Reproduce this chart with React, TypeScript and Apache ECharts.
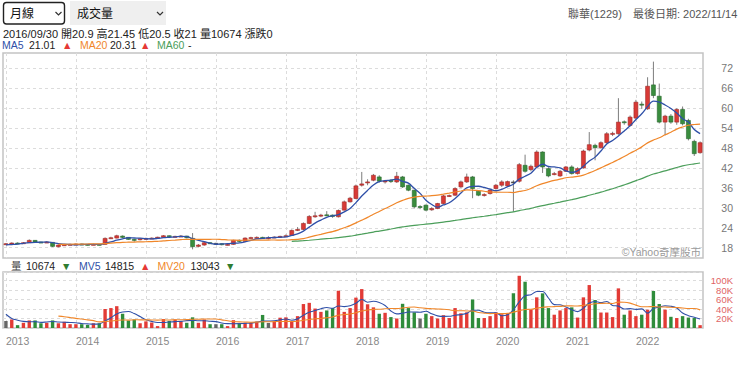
import React, { useEffect, useRef } from 'react';
import * as echarts from 'echarts';

// ---------- data ----------
const START_YEAR = 2012;
const START_MONTH = 12;
const HOVER_INDEX = 45;

const priorCloses = [18.2, 18.5, 18.8, 18.4, 18.3, 18.6, 18.9, 18.7, 18.3, 19.2];
const priorVolumes = [38000, 42000, 45000, 36000, 40000, 40000, 63000, 23500, 23500, 20300];

const opens = [
  19.1, 19.2, 19.4, 19.3, 19.5, 20.2, 19.7, 19.6, 19.6, 18.3, 18.8, 18.9,
  19.0, 19.1, 19.0, 18.9, 19.0, 19.0, 20.8, 20.9, 21.5, 21.1, 20.5, 20.4,
  20.6, 20.8, 20.9, 21.1, 21.6, 21.3, 21.4, 21.5, 20.8, 18.4, 18.8, 19.5,
  19.3, 19.2, 18.9, 19.0, 20.2, 19.9, 20.9, 21.0, 21.1, 20.9, 21.0, 21.2,
  21.4, 21.7, 23.2, 23.5, 25.3, 27.4, 27.6, 27.9, 27.8, 27.3, 29.3, 31.8,
  32.8, 36.8, 37.5, 38.3, 39.3, 37.9, 38.3, 37.8, 39.3, 36.8, 35.3, 30.4,
  30.8, 29.4, 29.8, 31.3, 33.6, 33.8, 36.3, 37.8, 39.3, 35.0, 33.8, 34.3,
  35.8, 36.8, 36.6, 37.8, 38.0, 42.8, 41.5, 42.3, 46.8, 41.8, 40.1, 39.6,
  41.0, 42.3, 40.3, 42.0, 47.4, 48.8, 48.1, 49.6, 52.2, 52.3, 55.9, 54.8,
  57.0, 61.2, 59.8, 67.0, 63.6, 55.8, 57.6, 55.8, 59.6, 56.3, 50.0, 46.6
];
const closes = [
  19.2, 19.4, 19.3, 19.5, 20.2, 19.7, 19.6, 19.7, 18.4, 18.8, 18.9, 19.0,
  19.1, 19.0, 18.9, 19.0, 18.9, 20.8, 21.0, 21.6, 21.1, 20.5, 20.4, 20.7,
  20.8, 20.9, 21.15, 21.6, 21.3, 21.4, 21.5, 21.0, 18.3, 18.8, 19.5, 19.3,
  19.3, 18.9, 19.0, 20.2, 19.9, 20.9, 21.05, 21.1, 21.0, 21.0, 21.2, 21.4,
  21.6, 23.2, 23.5, 25.3, 27.4, 27.6, 27.8, 27.7, 27.4, 29.2, 31.8, 32.9,
  36.6, 37.2, 37.8, 39.8, 38.0, 38.1, 37.9, 39.5, 36.3, 35.3, 30.3, 30.3,
  29.3, 29.8, 31.3, 33.6, 33.7, 35.8, 37.8, 39.3, 35.8, 33.8, 34.0, 35.3,
  36.8, 37.8, 37.9, 37.8, 43.0, 41.0, 42.5, 46.8, 42.3, 39.6, 40.3, 41.0,
  42.3, 40.3, 41.8, 47.1, 49.0, 48.1, 49.6, 52.3, 52.4, 55.8, 55.6, 57.3,
  61.8, 61.0, 66.6, 63.8, 55.8, 57.6, 55.8, 59.6, 55.3, 50.8, 46.3, 49.6
];
const lows = [
  18.9, 19.0, 19.1, 19.2, 19.4, 19.6, 19.4, 19.5, 18.2, 18.1, 18.7, 18.8,
  18.9, 18.8, 18.7, 18.8, 18.7, 18.9, 20.6, 20.8, 20.9, 20.4, 19.8, 20.2,
  20.4, 20.6, 20.8, 21.0, 21.1, 21.1, 21.2, 20.8, 17.5, 18.1, 18.6, 19.1,
  19.0, 18.7, 18.7, 18.9, 19.7, 19.8, 20.7, 20.8, 20.7, 20.5, 20.9, 21.0,
  21.2, 21.6, 23.0, 23.3, 25.1, 27.0, 27.2, 27.5, 27.0, 27.1, 29.2, 31.6,
  32.6, 36.4, 36.8, 38.0, 37.6, 37.3, 37.5, 37.5, 36.0, 35.0, 29.8, 29.6,
  29.0, 29.1, 29.6, 31.0, 33.3, 33.5, 36.0, 37.5, 32.9, 33.5, 33.4, 34.0,
  35.5, 36.3, 36.3, 28.8, 37.6, 40.6, 41.0, 42.0, 40.5, 39.2, 39.8, 39.3,
  40.8, 40.0, 40.0, 41.8, 47.0, 44.3, 47.8, 49.3, 51.6, 52.0, 55.0, 54.5,
  56.8, 59.8, 59.5, 63.0, 55.4, 51.8, 55.3, 55.0, 54.8, 50.3, 45.6, 46.3
];
const highs = [
  19.4, 19.6, 19.6, 19.7, 20.5, 20.3, 19.8, 19.9, 19.7, 18.9, 19.1, 19.2,
  19.3, 19.2, 19.1, 19.2, 19.1, 21.1, 21.3, 21.9, 21.7, 21.2, 20.6, 20.8,
  21.0, 21.1, 21.3, 21.8, 21.7, 21.6, 21.8, 21.6, 22.4, 19.1, 19.7, 19.6,
  19.5, 19.3, 19.2, 20.4, 20.5, 21.1, 21.3, 21.4, 21.3, 21.45, 21.4, 21.6,
  22.0, 23.5, 24.2, 25.6, 27.8, 28.8, 28.2, 29.0, 28.0, 29.5, 32.2, 33.3,
  37.0, 40.8, 38.6, 40.2, 39.8, 38.4, 38.6, 40.8, 39.6, 37.0, 35.5, 30.8,
  31.0, 30.2, 31.5, 33.9, 34.0, 36.2, 38.2, 40.3, 39.6, 35.3, 34.4, 35.6,
  37.2, 38.3, 38.2, 38.3, 43.5, 46.0, 43.0, 47.3, 47.0, 42.2, 40.8, 41.4,
  42.6, 42.8, 42.2, 47.5, 52.8, 49.3, 50.0, 52.8, 52.9, 63.0, 56.3, 57.8,
  62.5, 62.0, 69.3, 74.0, 67.4, 58.0, 58.2, 60.0, 60.5, 56.8, 50.5, 50.0
];
const volumes = [
  14700, 18000, 6000, 11000, 16000, 16000, 10000, 11000, 16000, 10000, 13000, 8000,
  8000, 8000, 6500, 10000, 10000, 40000, 42000, 46000, 30000, 16000, 18000, 10000,
  14000, 11500, 4000, 19000, 15000, 18000, 14285, 11000, 22500, 11000, 18000, 8000,
  8000, 8000, 4000, 16500, 9500, 11200, 11300, 13400, 27501, 10674, 13000, 21700,
  22500, 14000, 25000, 50500, 53000, 41000, 34000, 37000, 42000, 78500, 34000, 42000,
  64000, 82000, 50000, 43500, 30000, 32000, 23000, 20000, 51000, 42000, 33000, 20000,
  30000, 25000, 20000, 27000, 21000, 42000, 31000, 33000, 60000, 21000, 21000, 25000,
  33000, 29000, 31000, 73000, 110000, 97500, 39000, 64600, 73000, 42000, 28000, 37000,
  42000, 43500, 22000, 64600, 90500, 59000, 32600, 32600, 23000, 83500, 28000, 37000,
  25000, 28000, 38600, 78000, 50500, 38600, 23600, 21000, 25000, 22000, 21000, 6000
];

const yearLabels = ['2013', '2014', '2015', '2016', '2017', '2018', '2019', '2020', '2021', '2022'];
const priceTicks = [18, 24, 30, 36, 42, 48, 54, 60, 66, 72];

// ---------- derived ----------
const pad = (n: number) => (n < 10 ? '0' + n : String(n));
const dates = closes.map((_, k) => {
  const m0 = START_MONTH - 1 + k;
  const y = START_YEAR + Math.floor(m0 / 12);
  const m = (m0 % 12) + 1;
  const d = new Date(y, m, 0).getDate();
  return `${y}/${pad(m)}/${pad(d)}`;
});

function movingAvg(prior: number[], data: number[], n: number) {
  const all = prior.concat(data);
  const p = prior.length;
  return data.map((_, i) => {
    const end = p + i;
    if (end - n + 1 < 0) return null;
    let s = 0;
    for (let k = end - n + 1; k <= end; k++) s += all[k];
    return s / n;
  });
}

const ma5 = movingAvg(priorCloses, closes, 5);
const ma20 = movingAvg(priorCloses, closes, 20);
const ma60 = movingAvg(priorCloses, closes, 60);
const mv5 = movingAvg(priorVolumes, volumes, 5);
const mv20 = movingAvg(priorVolumes, volumes, 20);

const RED = '#e23b36';
const GREEN = '#2f8c3b';
const GRAYBAR = '#666666';
const C_MA5 = '#2f50a8';
const C_MA20 = '#f0872a';
const C_MA60 = '#4b9e5a';
const FONT = "'Liberation Sans', 'Noto Sans CJK TC', sans-serif";

const prevClose = (i: number) => (i === 0 ? priorCloses[priorCloses.length - 1] : closes[i - 1]);
const volColor = (i: number) => {
  const d = closes[i] - prevClose(i);
  return Math.abs(d) < 1e-9 ? GRAYBAR : d > 0 ? RED : GREEN;
};

const num = (n: number) => String(Number(n.toFixed(2)));
const arrowOf = (cur: number | null, prev: number | null) => {
  if (cur == null || prev == null) return { t: '', c: '#000' };
  if (cur > prev + 1e-9) return { t: '▲', c: '#e53935' };
  if (cur < prev - 1e-9) return { t: '▼', c: '#2e7d32' };
  return { t: '', c: '#000' };
};

export default function App() {
  const ref = useRef<HTMLDivElement>(null);

  useEffect(() => {
    if (!ref.current) return;
    const chart = echarts.init(ref.current, undefined, { renderer: 'svg' });
    const h = HOVER_INDEX;
    const chg = Number((closes[h] - prevClose(h)).toFixed(2));
    const line2 = `${dates[h]} 開${num(opens[h])} 高${num(highs[h])} 低${num(lows[h])} 收${num(closes[h])} 量${volumes[h]} 漲跌${chg}`;
    const fmtMa = (v: number | null) => (v == null ? '-' : v.toFixed(2));
    const a5 = arrowOf(ma5[h], ma5[h - 1]);
    const a20 = arrowOf(ma20[h], ma20[h - 1]);
    const a60 = arrowOf(ma60[h], ma60[h - 1]);
    const av = arrowOf(volumes[h], volumes[h - 1]);
    const av5 = arrowOf(mv5[h], mv5[h - 1]);
    const av20 = arrowOf(mv20[h], mv20[h - 1]);

    const txt = (x: number, y: number, text: string, fill: string, fontSize = 11, align = 'left') => ({
      type: 'text',
      x,
      y,
      silent: true,
      style: { text, fill, fontSize, fontFamily: FONT, align, verticalAlign: 'middle' },
    });

    const yearTick = (idx: number) => idx % 12 === 0;
    const splitDash = { color: '#dcdcdc', type: [3, 3], width: 1 };

    const candleData = closes.map((c, i) => [i, opens[i], c, lows[i], highs[i]]);

    const option: any = {
      animation: false,
      backgroundColor: '#ffffff',
      textStyle: { fontFamily: FONT },
      grid: [
        { left: 3, top: 53, width: 700, height: 205, show: true, borderColor: '#c3c3c3', borderWidth: 1.5, backgroundColor: '#fff' },
        { left: 3, top: 272, width: 700, height: 56, show: true, borderColor: '#c3c3c3', borderWidth: 1.5, backgroundColor: '#fff' },
      ],
      xAxis: [
        {
          type: 'category', gridIndex: 0, data: dates, boundaryGap: true,
          axisLine: { show: false },
          axisTick: { show: false, interval: yearTick, alignWithLabel: true },
          axisLabel: { show: false, interval: yearTick },
          splitLine: { show: true, interval: yearTick, alignWithLabel: true, lineStyle: splitDash },
        },
        {
          type: 'category', gridIndex: 1, data: dates, boundaryGap: true,
          axisLine: { show: false },
          axisTick: { show: false, interval: yearTick, alignWithLabel: true },
          axisLabel: {
            show: true, interval: yearTick, color: '#888', fontSize: 10.5, fontFamily: FONT,
            align: 'left', margin: 8,
            formatter: (_v: string, idx: number) => yearLabels[Math.floor(idx / 12)] || '',
          },
          splitLine: { show: true, interval: yearTick, alignWithLabel: true, lineStyle: splitDash },
        },
      ],
      yAxis: [
        {
          type: 'value', gridIndex: 0, position: 'right', min: 14.9, max: 76.6, scale: true,
          axisLine: { show: false },
          axisTick: { show: false, customValues: priceTicks },
          axisLabel: { customValues: priceTicks, color: '#777', fontSize: 10.5, fontFamily: FONT, align: 'right', margin: 30 },
          splitLine: { show: true, lineStyle: splitDash },
        },
        {
          type: 'value', gridIndex: 1, position: 'right', min: 0, max: 118000, interval: 20000,
          axisLine: { show: false },
          axisTick: { show: false },
          axisLabel: {
            color: '#e06464', fontSize: 9.5, lineHeight: 9, fontFamily: FONT, align: 'right', margin: 30, showMaxLabel: false,
            formatter: (v: number) => (v === 0 || v > 100000 ? '' : v / 1000 + 'K'),
          },
          splitLine: { show: true, lineStyle: splitDash },
        },
      ],
      series: [
        {
          type: 'custom', name: 'K', xAxisIndex: 0, yAxisIndex: 0, clip: true,
          data: candleData,
          encode: { x: 0, y: [1, 2, 3, 4] },
          renderItem: (_params: any, api: any) => {
            const i = api.value(0);
            const o = api.value(1), c = api.value(2), l = api.value(3), hi = api.value(4);
            const pO = api.coord([i, o]);
            const pC = api.coord([i, c]);
            const pL = api.coord([i, l]);
            const pH = api.coord([i, hi]);
            const w = api.size([1, 0])[0] * 0.68;
            const up = c > o, down = c < o;
            const fill = up ? '#d83a36' : down ? '#3a8d3e' : '#555';
            const stroke = up ? '#9e2a27' : down ? '#27662b' : '#444';
            const top = Math.min(pO[1], pC[1]);
            const hgt = Math.max(Math.abs(pO[1] - pC[1]), 1);
            return {
              type: 'group',
              children: [
                { type: 'line', shape: { x1: pH[0], y1: pH[1], x2: pL[0], y2: pL[1] }, style: { stroke: '#7d7d7d', lineWidth: 1 } },
                { type: 'rect', shape: { x: pO[0] - w / 2, y: top, width: w, height: hgt }, style: { fill, stroke, lineWidth: 0.6 } },
              ],
            };
          },
          z: 2,
        },
        { type: 'line', name: 'MA5', xAxisIndex: 0, yAxisIndex: 0, data: ma5, showSymbol: false, smooth: 0.35, lineStyle: { color: C_MA5, width: 1.3 }, z: 3, silent: true },
        { type: 'line', name: 'MA20', xAxisIndex: 0, yAxisIndex: 0, data: ma20, showSymbol: false, smooth: 0.35, lineStyle: { color: C_MA20, width: 1.2 }, z: 3, silent: true },
        { type: 'line', name: 'MA60', xAxisIndex: 0, yAxisIndex: 0, data: ma60, showSymbol: false, smooth: 0.35, lineStyle: { color: C_MA60, width: 1.2 }, z: 3, silent: true },
        {
          type: 'bar', name: 'VOL', xAxisIndex: 1, yAxisIndex: 1, barWidth: '58%',
          data: volumes.map((v, i) => ({ value: v, itemStyle: { color: volColor(i) } })),
          z: 2, silent: true,
        },
        { type: 'line', name: 'MV5', xAxisIndex: 1, yAxisIndex: 1, data: mv5, showSymbol: false, smooth: 0.35, lineStyle: { color: C_MA5, width: 1.1 }, z: 3, silent: true },
        { type: 'line', name: 'MV20', xAxisIndex: 1, yAxisIndex: 1, data: mv20, showSymbol: false, smooth: 0.35, lineStyle: { color: C_MA20, width: 1.1 }, z: 3, silent: true },
      ],
      graphic: [
        // selects
        { type: 'rect', silent: true, shape: { x: 3.5, y: 2.5, width: 61, height: 21.5, r: 3 }, style: { fill: '#fff', stroke: '#222', lineWidth: 1.4 } },
        txt(10, 14, '月線', '#111', 12),
        { type: 'polyline', silent: true, shape: { points: [[55.5, 12], [58.5, 15], [61.5, 12]] }, style: { stroke: '#333', lineWidth: 1.2, fill: null } },
        { type: 'rect', silent: true, shape: { x: 70, y: 1, width: 96, height: 24 }, style: { fill: '#efefef' } },
        txt(77, 14, '成交量', '#111', 12),
        { type: 'polyline', silent: true, shape: { points: [[157, 12], [160, 15], [163, 12]] }, style: { stroke: '#333', lineWidth: 1.2, fill: null } },
        // top right
        txt(568, 14, '聯華(1229)', '#555', 11),
        txt(633, 14, '最後日期: 2022/11/14', '#555', 11),
        // readout
        txt(3, 33.5, line2, '#222', 11),
        txt(2, 44.5, 'MA5', C_MA5, 10.5),
        txt(29, 44.5, fmtMa(ma5[h]), '#222', 10.5),
        txt(62, 44.5, a5.t, a5.c, 10.5),
        txt(80, 44.5, 'MA20', C_MA20, 10.5),
        txt(110, 44.5, fmtMa(ma20[h]), '#222', 10.5),
        txt(140, 44.5, a20.t, a20.c, 10.5),
        txt(157, 44.5, 'MA60', C_MA60, 10.5),
        txt(188, 44.5, fmtMa(ma60[h]), '#222', 10.5),
        txt(196, 44.5, a60.t, a60.c, 10.5),
        // volume legend
        txt(11, 266, '量', '#444', 10.5),
        txt(26, 266, String(volumes[h]), '#222', 10.5),
        txt(61, 266, av.t, av.c, 10.5),
        txt(79, 266, 'MV5', C_MA5, 10.5),
        txt(105, 266, String(Math.round(mv5[h] as number)), '#222', 10.5),
        txt(140, 266, av5.t, av5.c, 10.5),
        txt(157.5, 266, 'MV20', C_MA20, 10.5),
        txt(190.5, 266, String(Math.round(mv20[h] as number)), '#222', 10.5),
        txt(225, 266, av20.t, av20.c, 10.5),
        // watermark
        txt(701, 252, '©Yahoo奇摩股市', '#9a9a9a', 10.5, 'right'),
      ],
    };

    chart.setOption(option);
    return () => chart.dispose();
  }, []);

  return (
    <div
      ref={ref}
      style={{ position: 'fixed', left: 0, top: 0, width: 740, height: 366, background: '#fff' }}
    />
  );
}
